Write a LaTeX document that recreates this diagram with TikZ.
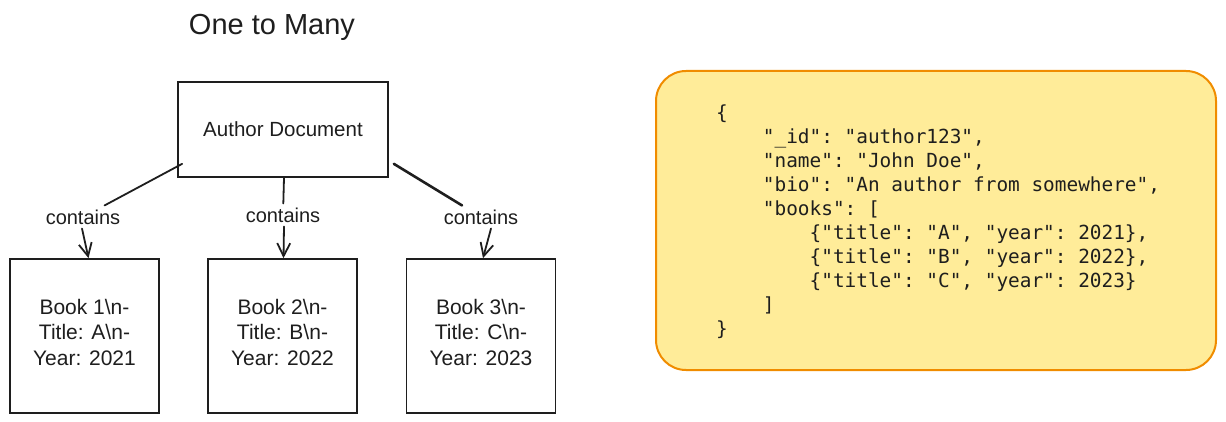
\documentclass[tikz,border=0pt]{standalone}
\usepackage{fontspec}
\setmainfont{Liberation Sans}
\setmonofont{DejaVu Sans Mono}
\usetikzlibrary{arrows.meta}
\definecolor{ink}{HTML}{1E1E1E}
\definecolor{yfill}{HTML}{FFEC99}
\definecolor{ystroke}{HTML}{F08C00}
\begin{document}
\begin{tikzpicture}[x=1pt,y=-1pt,
  box/.style={draw=ink,line width=1.7pt,fill=white,inner sep=0pt,text=ink},
  lbl/.style={text=ink,font=\fontsize{20}{24}\selectfont,inner sep=4pt},
  booktext/.style={align=center,font=\fontsize{21}{25.5}\selectfont},
  conn/.style={draw=ink,line width=1.8pt,line cap=round},
  arr/.style={conn,-{Straight Barb[length=13pt,width=13pt,line width=1.8pt]}}]
\useasboundingbox (0,0) rectangle (1226,422);
% title
\node[text=ink,font=\fontsize{29}{32}\selectfont] (title) at (272,27) {One to Many};
% author
\node[box,minimum width=210pt,minimum height=95pt,font=\fontsize{20.5}{24}\selectfont] (author) at (283,129.5) {Author Document};
% books
\node[box,minimum width=149pt,minimum height=154pt,booktext] (book1) at (84.5,336) {Book 1\textbackslash n-\\Title: A\textbackslash n-\\Year: 2021\rule[-8pt]{0pt}{2pt}};
\node[box,minimum width=149pt,minimum height=154pt,booktext] (book2) at (282.5,336) {Book 2\textbackslash n-\\Title: B\textbackslash n-\\Year: 2022\rule[-8pt]{0pt}{2pt}};
\node[box,minimum width=149pt,minimum height=154pt,booktext] (book3) at (481,336) {Book 3\textbackslash n-\\Title: C\textbackslash n-\\Year: 2023\rule[-8pt]{0pt}{2pt}};
% labels
\node[lbl] (c1) at (83,217) {contains};
\node[lbl] (c2) at (283,215) {contains};
\node[lbl] (c3) at (481,217) {contains};
% connectors
\coordinate (s1) at ([shift={(5,-14)}]author.south west);
\coordinate (s3) at ([shift={(5,-14)}]author.south east);
\draw[conn] (s1) -- (c1);
\draw[arr] ([xshift=-1pt]c1.south) -- ([xshift=4pt]book1.north);
\draw[conn] ([xshift=1pt]author.south) -- (c2);
\draw[arr] ([xshift=1pt]c2.south) -- ([xshift=1pt]book2.north);
\draw[conn,line width=2.6pt] (s3) -- (c3);
\draw[arr] ([xshift=10pt]c3.south) -- ([xshift=2pt]book3.north);
% json
\node[draw=ystroke,fill=yfill,line width=2pt,rounded corners=30pt,minimum width=560pt,minimum height=299pt] (json) at (936,220.5) {};
\node[anchor=north west,inner sep=0pt,align=left,text=ink,font=\ttfamily\fontsize{19.4}{24}\selectfont] (code) at (716,105) {%
\{\\
\phantom{xxxx}"\_id": "author123",\\
\phantom{xxxx}"name": "John Doe",\\
\phantom{xxxx}"bio": "An author from somewhere",\\
\phantom{xxxx}"books": [\\
\phantom{xxxxxxxx}\{"title": "A", "year": 2021\},\\
\phantom{xxxxxxxx}\{"title": "B", "year": 2022\},\\
\phantom{xxxxxxxx}\{"title": "C", "year": 2023\}\\
\phantom{xxxx}]\\
\}};
\end{tikzpicture}
\end{document}
